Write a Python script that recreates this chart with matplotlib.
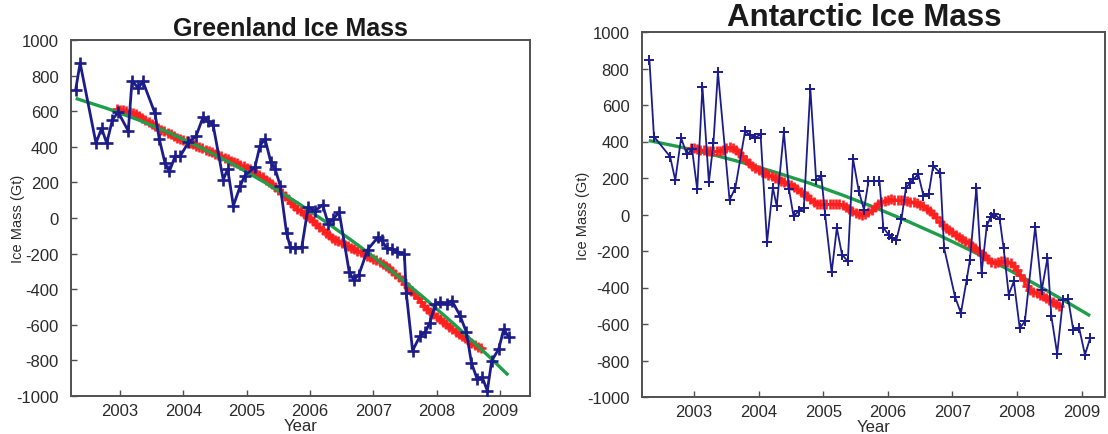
import numpy as np
import matplotlib
matplotlib.use("Agg")
import matplotlib.pyplot as plt
from matplotlib.ticker import FuncFormatter

plt.rcParams['font.family'] = ['Liberation Sans', 'DejaVu Sans']

# ---------------- Greenland ----------------
gr_years = [2002.30, 2002.37, 2002.62, 2002.71, 2002.79, 2002.88, 2002.97, 2003.13, 2003.19, 2003.29,
            2003.36, 2003.55, 2003.62, 2003.71, 2003.78, 2003.87, 2003.95, 2004.08, 2004.20, 2004.31,
            2004.39, 2004.47, 2004.63, 2004.70, 2004.79, 2004.90, 2004.97, 2005.13, 2005.21, 2005.29,
            2005.38, 2005.45, 2005.53, 2005.63, 2005.69, 2005.77, 2005.87, 2005.97, 2006.08, 2006.20,
            2006.29, 2006.37, 2006.46, 2006.62, 2006.69, 2006.77, 2006.91, 2007.07, 2007.13, 2007.21,
            2007.29, 2007.38, 2007.49, 2007.52, 2007.62, 2007.74, 2007.82, 2007.89, 2007.98, 2008.06,
            2008.16, 2008.24, 2008.37, 2008.47, 2008.55, 2008.64, 2008.72, 2008.80, 2008.87, 2008.98,
            2009.06, 2009.14]
gr_mass = [721, 871, 421, 504, 420, 552, 595, 489, 771, 729,
           768, 590, 444, 309, 262, 347, 347, 425, 459, 566,
           543, 523, 215, 275, 69, 181, 238, 285, 406, 444,
           316, 275, 181, -84, -165, -168, -165, 60, 41, 73,
           -34, -6, 35, -305, -347, -320, -178, -109, -122, -170,
           -174, -189, -202, -421, -745, -661, -642, -590, -483, -474,
           -483, -464, -549, -642, -815, -905, -895, -970, -802, -736,
           -624, -670]

gr_smooth_start, gr_smooth_end = 2002.95, 2008.70
gr_smooth = [612, 608, 604, 600, 596, 592, 585, 575, 562, 550, 538, 527, 516, 506, 496, 487, 478, 470, 461, 452,
             444, 437, 430, 422, 414, 407, 399, 391, 384, 376, 369, 362, 354, 347, 339, 331, 323, 315, 307, 299,
             291, 283, 275, 264, 252, 240, 228, 216, 204, 190, 175, 158, 140, 122, 104, 86, 68, 52, 38, 25,
             13, 0, -15, -32, -50, -68, -85, -98, -110, -121, -131, -140, -149, -158, -167, -176, -185, -193, -202, -211,
             -220, -229, -238, -247, -256, -268, -282, -298, -315, -333, -351, -369, -388, -408, -428, -450, -472, -493, -510, -526,
             -541, -555, -570, -584, -598, -612, -625, -639, -652, -664, -676, -688, -700, -711, -722, -730]

gr_fit_years = [2002.3, 2002.8, 2003.3, 2003.8, 2004.3, 2004.8, 2005.3, 2005.8, 2006.3, 2006.8,
                2007.3, 2007.8, 2008.3, 2008.8, 2009.13]
gr_fit = [672, 615, 550, 475, 391, 299, 197, 86, -34, -163, -301, -448, -604, -769, -883]

# ---------------- Antarctica ----------------
an_years = [2002.31, 2002.38, 2002.63, 2002.71, 2002.80, 2002.89, 2002.97, 2003.05, 2003.13, 2003.23,
            2003.30, 2003.37, 2003.55, 2003.64, 2003.79, 2003.87, 2003.95, 2004.03, 2004.13, 2004.22,
            2004.28, 2004.39, 2004.47, 2004.54, 2004.62, 2004.70, 2004.80, 2004.89, 2004.97, 2005.03,
            2005.13, 2005.21, 2005.29, 2005.38, 2005.46, 2005.55, 2005.63, 2005.70, 2005.79, 2005.87,
            2005.93, 2006.01, 2006.06, 2006.13, 2006.21, 2006.28, 2006.35, 2006.39, 2006.47, 2006.55,
            2006.63, 2006.70, 2006.81, 2006.87, 2007.04, 2007.13, 2007.22, 2007.27, 2007.37, 2007.45,
            2007.53, 2007.59, 2007.64, 2007.73, 2007.79, 2007.87, 2007.95, 2008.04, 2008.12, 2008.28,
            2008.38, 2008.47, 2008.53, 2008.62, 2008.71, 2008.79, 2008.87, 2008.96, 2009.05, 2009.13]
an_mass = [847, 427, 317, 188, 419, 329, 357, 137, 701, 177,
           390, 781, 79, 147, 457, 434, 421, 439, -152, 147,
           46, 452, 137, -9, 18, 37, 690, 188, 210, -5,
           -317, -73, -220, -256, 306, 128, 27, 183, 183, 183,
           -73, -110, -128, -141, -27, 147, 174, 192, 220, 104,
           110, 265, 229, -183, -452, -540, -357, -247, 147, -320,
           -64, -13, 5, -24, -183, -439, -366, -622, -586, -68,
           -416, -238, -558, -763, -467, -463, -635, -622, -769, -677]

an_smooth_start, an_smooth_end = 2002.95, 2008.65
an_smooth = [365, 362, 358, 354, 351, 349, 348, 348, 348, 350, 356, 366, 372, 365, 352, 337, 318, 298, 280, 265,
             254, 244, 234, 226, 218, 210, 202, 194, 186, 177, 168, 159, 148, 137, 125, 114, 100, 84, 68, 60,
             57, 55, 55, 55, 56, 56, 55, 52, 42, 30, 18, 8, 2, 0, 4, 12, 24, 40, 56, 68,
             76, 81, 83, 82, 81, 80, 78, 75, 71, 67, 62, 54, 44, 32, 18, 2, -16, -40, -58, -72,
             -86, -98, -110, -122, -134, -144, -156, -170, -184, -198, -214, -230, -246, -260, -264, -260, -256, -255, -258, -268,
             -284, -304, -330, -360, -392, -412, -424, -432, -439, -448, -460, -470, -480, -492, -503]

an_fit_years = [2002.3, 2002.8, 2003.3, 2003.8, 2004.3, 2004.8, 2005.3, 2005.8, 2006.3, 2006.8,
                2007.3, 2007.8, 2008.3, 2008.8, 2009.13]
an_fit = [405, 369, 327, 280, 227, 170, 106, 38, -36, -115, -200, -290, -385, -486, -555]

year_ticks = [2003, 2004, 2005, 2006, 2007, 2008, 2009]
mass_ticks = list(range(-1000, 1001, 200))

BLUE = '#1c1c8a'
RED = '#ff1f1f'
GREEN = '#1f9e4a'
TXT = '#2a2a2a'
SPINE = '#505050'

W, H = 1108, 435
fig = plt.figure(figsize=(W / 100, H / 100), dpi=100)


def px_axes(x0, y0, x1, y1):
    return fig.add_axes([x0 / W, 1 - y1 / H, (x1 - x0) / W, (y1 - y0) / H])


def style(ax, xlim, ylim, title, tsize, title_dx, ylab_x, title_pad):
    ax.set_xlim(*xlim)
    ax.set_ylim(*ylim)
    ax.set_xticks(year_ticks)
    ax.set_yticks(mass_ticks)
    ax.yaxis.set_major_formatter(FuncFormatter(lambda v, p: '%d' % v))
    ax.tick_params(direction='in', length=4, width=1, colors=SPINE, labelcolor=TXT,
                   labelsize=12)
    ax.tick_params(axis='y', pad=9)
    ax.tick_params(axis='x', pad=5)
    for s in ax.spines.values():
        s.set_color(SPINE)
        s.set_linewidth(1.4)
    ax.set_ylabel('Ice Mass (Gt)', fontsize=10.5, color=TXT)
    ax.yaxis.set_label_coords(ylab_x, 0.5)
    ax.set_xlabel('Year', fontsize=12, color=TXT, labelpad=0)
    ax.set_title(title, fontsize=tsize, fontweight='bold', color='#1a1a1a', pad=title_pad,
                 x=0.5 + title_dx)


# Greenland panel
ax1 = px_axes(71, 41, 530, 397)
gx = np.linspace(gr_smooth_start, gr_smooth_end, len(gr_smooth))
ax1.plot(gx, gr_smooth, color=RED, lw=1.2, marker='+', ms=6.5, mew=1.9, zorder=2)
ax1.plot(gr_fit_years, gr_fit, color=GREEN, lw=2.4, zorder=3, solid_capstyle='butt')
ax1.plot(gr_years, gr_mass, color=BLUE, lw=2.0, marker='+', ms=8, mew=1.9, zorder=4)
style(ax1, (2002.226, 2009.474), (-1000, 1000), 'Greenland Ice Mass', 18, -0.022, -0.10, 2)

# Antarctic panel
ax2 = px_axes(642, 33, 1105, 398)
sx = np.linspace(an_smooth_start, an_smooth_end, len(an_smooth))
ax2.plot(an_fit_years, an_fit, color=GREEN, lw=2.4, zorder=2, solid_capstyle='butt')
ax2.plot(sx, an_smooth, color=RED, lw=1.2, marker='+', ms=6.5, mew=1.9, zorder=3)
ax2.plot(an_years, an_mass, color=BLUE, lw=1.3, marker='+', ms=7.5, mew=1.4, zorder=4)
style(ax2, (2002.195, 2009.36), (-1000, 1000), 'Antarctic Ice Mass', 22.5, -0.02, -0.112, 1)

fig.savefig('out.png', dpi=100)
